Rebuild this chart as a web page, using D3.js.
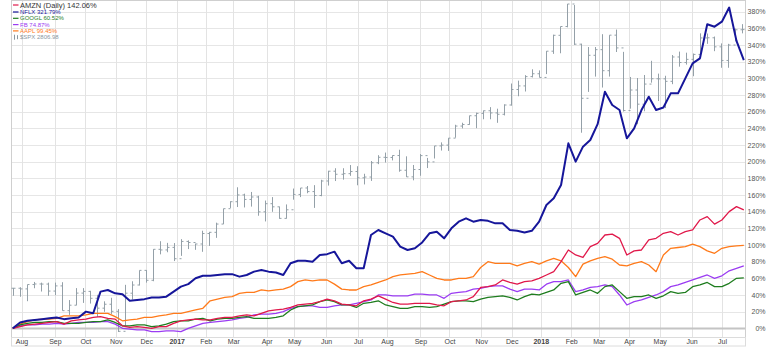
<!DOCTYPE html>
<html><head><meta charset="utf-8">
<script src="https://cdn.jsdelivr.net/npm/d3@7"></script>
<style>body{margin:0;background:#fff}svg{display:block}</style>
</head><body><svg id="c" width="770" height="347"></svg>
<script>
// ---- data (trading-day based, 22 Jul 2016 .. 23 Jul 2018) ----
const totalDays = 504;
const monthTickIdx = [6,29,50,71,92,113,133,152,175,194,216,238,258,281,301,323,344,364,385,404,425,446,468,489];
const monthLabels = ["Aug","Sep","Oct","Nov","Dec","2017","Feb","Mar","Apr","May","Jun","Jul","Aug","Sep","Oct","Nov","Dec","2018","Feb","Mar","Apr","May","Jun","Jul"];
const pctTicks = [0,20,40,60,80,100,120,140,160,180,200,220,240,260,280,300,320,340,360,380];

// weekly % change samples
const amzn = [0,2,4,5,6,7,8,5,9,10,11,13,14,12,11,3,1,2,1,0,2,2,6,9,10,11,10,10,12,13,13,15,16,
 15,18,21,22,23,25,28,29,30,32,35,33,29,28,27,33,35,39,35,31,29,29,30,30,30,28,27,32,33,34,38,49,50,52,58,55,
 53,56,57,60,64,68,80,94,88,85,98,102,112,113,108,88,93,94,106,108,114,116,112,116,118,130,134,125,130,140,146,142.06];
const nflx = [0,7,9,10,11,12,13,11,12,13,20,18,44,46,42,41,33,34,35,37,37,38,44,50,53,60,63,63,64,65,65,62,64,
 68,70,68,67,64,78,81,81,80,88,89,92,78,81,72,72,112,118,114,110,98,94,96,103,114,116,108,120,128,132,128,130,129,126,126,118,
 117,115,117,128,148,156,172,222,200,218,226,245,284,268,262,228,240,262,278,262,265,282,282,300,318,324,365,362,368,385,345,321.79];
const googl = [0,4,6,7,7,8,8,6,6,6,7,8,8,10,7,3,3,4,4,2,3,5,8,9,9,11,12,9,11,12,12,13,14,
 12,12,12,13,15,22,26,27,28,32,34,32,28,28,25,30,31,33,28,26,24,24,26,26,25,26,29,32,33,33,32,35,37,38,39,37,
 34,38,41,40,43,46,54,56,40,43,46,42,50,52,44,36,38,38,40,36,39,44,42,43,50,52,55,50,50,54,60,60.52];
const fb = [0,3,4,4,5,5,6,5,6,7,7,7,8,8,5,0,-1,-2,-2,-4,-4,-3,-3,-4,0,3,6,7,8,9,10,12,13,
 16,17,17,18,20,24,26,27,27,25,25,27,28,28,30,32,34,40,40,39,39,39,41,41,40,40,36,42,43,44,47,48,50,51,51,47,
 44,47,47,46,53,56,56,58,44,46,49,50,52,50,40,28,32,34,37,40,44,50,52,55,58,61,64,60,63,69,72,74.87];
const aapl = [0,5,8,10,11,11,12,15,15,15,16,18,18,18,14,9,10,11,13,13,15,16,18,18,20,22,24,33,35,37,38,42,43,
 43,46,45,46,47,50,56,58,57,58,58,53,47,46,46,50,52,55,58,62,64,65,66,68,64,60,58,58,60,60,62,73,80,78,78,78,
 75,78,80,77,81,84,81,73,62,77,81,84,86,83,76,75,78,80,76,68,88,96,97,98,101,98,93,90,96,98,99,99.45];

// $SPX weekly bars (high, low, close)
const spxHigh = [2175.6,2177.1,2182.9,2188.5,2187.0,2187.0,2187.0,2187.9,2150.0,2175.3,2175.3,2169.6,2161.0,2147.3,2154.8,2131.0,2182.3,2189.9,2213.4,2214.0,2259.8,2277.5,2273.8,2273.4,
 2282.1,2279.3,2272.1,2301.0,2298.4,2319.2,2351.3,2368.3,2401.0,2386.0,2390.0,2381.0,2370.0,2378.0,2356.0,2361.0,2398.0,2399.3,2404.0,2406.0,2418.7,2440.0,2446.2,2446.2,2453.8,2451.0,
 2433.0,2463.5,2477.6,2484.0,2477.1,2490.9,2474.9,2454.0,2480.4,2471.0,2500.2,2508.9,2519.4,2552.5,2557.6,2575.4,2583.0,2588.4,2597.0,2593.0,2604.2,2657.7,2665.2,2679.6,2695.0,2692.1,
 2743.5,2787.9,2810.3,2872.9,2870.0,2763.4,2754.4,2754.4,2789.2,2786.6,2801.9,2741.4,2674.8,2672.1,2680.0,2717.5,2683.6,2678.0,2732.9,2742.1,2739.2,2736.9,2791.5,2791.0,2782.8,2764.2,2763.0,2804.5,2816.8];
const spxLow = [2159.0,2157.0,2147.6,2175.0,2168.0,2159.0,2160.4,2127.8,2119.0,2139.0,2144.0,2142.6,2114.7,2125.4,2121.0,2083.8,2097.0,2151.0,2181.0,2187.0,2190.0,2248.4,2253.0,2233.6,
 2245.1,2260.0,2258.4,2254.0,2267.0,2285.0,2316.0,2352.9,2355.0,2354.0,2356.0,2335.0,2322.0,2344.0,2328.0,2328.4,2372.0,2378.0,2387.0,2353.0,2380.0,2405.0,2415.7,2419.0,2428.0,2405.7,
 2407.7,2416.0,2456.0,2459.9,2465.0,2437.8,2425.3,2417.4,2428.2,2446.6,2469.6,2488.9,2488.0,2520.4,2543.6,2552.5,2544.0,2566.3,2566.3,2557.4,2576.0,2600.8,2624.8,2637.0,2673.6,2673.6,
 2682.4,2736.0,2737.6,2808.0,2760.0,2532.7,2636.0,2675.8,2647.3,2675.8,2741.0,2585.9,2593.1,2553.8,2586.5,2660.0,2612.7,2594.6,2656.0,2701.9,2707.4,2676.8,2731.0,2763.0,2743.2,2699.0,2699.0,2770.0,2791.5];
const spxClose = [2175.0,2173.6,2182.9,2184.1,2183.9,2169.0,2180.0,2127.8,2139.2,2164.7,2168.3,2153.7,2133.0,2141.2,2126.4,2085.2,2164.5,2181.9,2213.4,2192.0,2259.5,2258.1,2263.8,2238.8,
 2277.0,2274.6,2271.3,2294.7,2297.4,2316.1,2351.2,2367.3,2383.1,2372.6,2378.3,2344.0,2362.7,2355.5,2329.0,2348.7,2384.2,2399.3,2390.9,2381.7,2415.8,2439.1,2431.8,2433.2,2438.3,2423.4,
 2425.2,2459.3,2472.5,2472.1,2476.8,2441.3,2425.6,2443.1,2476.6,2461.4,2500.2,2502.2,2519.4,2549.3,2553.2,2575.2,2581.1,2587.8,2582.3,2578.9,2602.4,2642.2,2651.5,2675.8,2683.3,2673.6,
 2743.2,2786.2,2810.3,2872.9,2762.1,2619.6,2732.2,2747.3,2691.3,2786.6,2752.0,2588.3,2640.9,2604.5,2656.3,2670.1,2669.9,2663.4,2727.7,2713.0,2721.3,2734.6,2779.0,2779.4,2754.9,2718.4,2759.8,2801.3,2801.8];

const legendItems = [
  {name:"AMZN (Daily) 142.06%", color:"#e0184a", data:amzn},
  {name:"NFLX 321.79%", color:"#16169a", data:nflx},
  {name:"GOOGL 60.52%", color:"#1f7d1f", data:googl},
  {name:"FB 74.87%", color:"#9b3cf2", data:fb},
  {name:"AAPL 99.45%", color:"#ff7a1a", data:aapl}
];
const spxLabel = "$SPX 2806.98";

// ---- layout ----
const W = 770, H = 347;
const plot = {l: 11.5, r: 745.5, t: 0.5, b: 337.5};
const svg = d3.select("#c");
const x = d3.scaleLinear().domain([0, totalDays]).range([12.8, 743.8]);
const y = d3.scaleLinear().domain([0, 380]).range([328.3, 11.7]);
const ySpx = d3.scaleLog().domain([2083.8, 2872.9]).range([332, 4]);
const spxColor = "#94a0a8";

svg.append("rect").attr("width", W).attr("height", H).attr("fill", "#fff");

// grid
const g = svg.append("g");
g.selectAll(".hg").data(pctTicks.concat([400])).enter().append("line")
  .attr("x1", plot.l).attr("x2", plot.r)
  .attr("y1", d => Math.round(y(d)) + 0.5).attr("y2", d => Math.round(y(d)) + 0.5)
  .attr("stroke", "#e6e6e6").attr("stroke-width", 1);
g.selectAll(".vg").data(monthTickIdx).enter().append("line")
  .attr("x1", d => Math.round(x(d)) + 0.5).attr("x2", d => Math.round(x(d)) + 0.5)
  .attr("y1", plot.t).attr("y2", plot.b)
  .attr("stroke", "#e3e3e3").attr("stroke-width", 1);
// zero line
g.append("line").attr("x1", plot.l).attr("x2", plot.r)
  .attr("y1", y(0) + 0.3).attr("y2", y(0) + 0.3)
  .attr("stroke", "#c4c4c4").attr("stroke-width", 2);

// frame
svg.append("rect").attr("x", plot.l).attr("y", plot.t)
  .attr("width", plot.r - plot.l).attr("height", plot.b - plot.t)
  .attr("fill", "none").attr("stroke", "#cfcfcf");
svg.append("rect").attr("x", plot.l).attr("y", plot.b)
  .attr("width", plot.r - plot.l).attr("height", H - 1 - plot.b)
  .attr("fill", "none").attr("stroke", "#dcdcdc");

// SPX OHLC bars
const spxStep = 503 / (spxClose.length - 1);
const bars = svg.append("g").attr("stroke", spxColor).attr("stroke-width", 1);
spxClose.forEach((c, j) => {
  const cx = Math.round(x(j * spxStep)) + 0.5;
  const open = j > 0 ? spxClose[j - 1] : c;
  bars.append("line").attr("x1", cx).attr("x2", cx).attr("y1", ySpx(spxHigh[j])).attr("y2", ySpx(spxLow[j]));
  bars.append("line").attr("x1", cx - 2).attr("x2", cx).attr("y1", ySpx(open)).attr("y2", ySpx(open));
  bars.append("line").attr("x1", cx).attr("x2", cx + 2).attr("y1", ySpx(c)).attr("y2", ySpx(c));
});

// series lines
const drawOrder = [4, 3, 2, 0, 1];
drawOrder.forEach(k => {
  const s = legendItems[k];
  const step = totalDays / (s.data.length - 1);
  const line = d3.line().x((d, i) => x(i * step)).y(d => y(d));
  svg.append("path").datum(s.data).attr("d", line)
    .attr("fill", "none").attr("stroke", s.color)
    .attr("stroke-width", k === 1 ? 2 : 1.3).attr("stroke-linejoin", "round");
});

// right axis
const yAxis = d3.axisRight(y).tickValues(pctTicks).tickSize(0).tickFormat(d => d + "%");
const ya = svg.append("g").attr("transform", `translate(${plot.r},0)`).call(yAxis);
ya.select(".domain").remove();
ya.selectAll("text").attr("x", 20).attr("text-anchor", "end")
  .attr("font-family", "Liberation Sans, Arial, sans-serif").attr("font-size", 7).attr("fill", "#555");

// bottom axis
const xAxis = d3.axisBottom(x).tickValues(monthTickIdx).tickSize(0).tickFormat((d, i) => monthLabels[i]);
const xa = svg.append("g").attr("transform", `translate(0,${plot.b})`).call(xAxis);
xa.select(".domain").remove();
xa.selectAll("text").attr("y", 1.5).attr("dy", "0.71em")
  .attr("font-family", "Liberation Sans, Arial, sans-serif").attr("font-size", 7).attr("fill", "#444")
  .attr("font-weight", (d, i) => /^\d{4}$/.test(monthLabels[i]) ? "bold" : "normal");

// legend
const lg = svg.append("g");
const legendY = k => k === 0 ? 5 : 12 + (k - 1) * 6.3;
legendItems.forEach((s, k) => {
  const ly = legendY(k);
  lg.append("line").attr("x1", 13).attr("x2", 18.5).attr("y1", ly).attr("y2", ly)
    .attr("stroke", s.color).attr("stroke-width", 1.2);
  lg.append("text").attr("x", 20).attr("y", ly).attr("dy", "0.35em")
    .attr("font-family", "Liberation Sans, Arial, sans-serif")
    .attr("font-size", k === 0 ? 7.5 : 6)
    .attr("fill", k === 0 ? "#333" : s.color).text(s.name);
});
const sy = legendY(5);
lg.append("line").attr("x1", 14.5).attr("x2", 14.5).attr("y1", sy - 2.5).attr("y2", sy + 2.5).attr("stroke", "#8a979f");
lg.append("line").attr("x1", 17.5).attr("x2", 17.5).attr("y1", sy - 2).attr("y2", sy + 2).attr("stroke", "#8a979f");
lg.append("text").attr("x", 20).attr("y", sy).attr("dy", "0.35em")
  .attr("font-family", "Liberation Sans, Arial, sans-serif").attr("font-size", 6)
  .attr("fill", "#8a979f").text(spxLabel);
</script></body></html>
